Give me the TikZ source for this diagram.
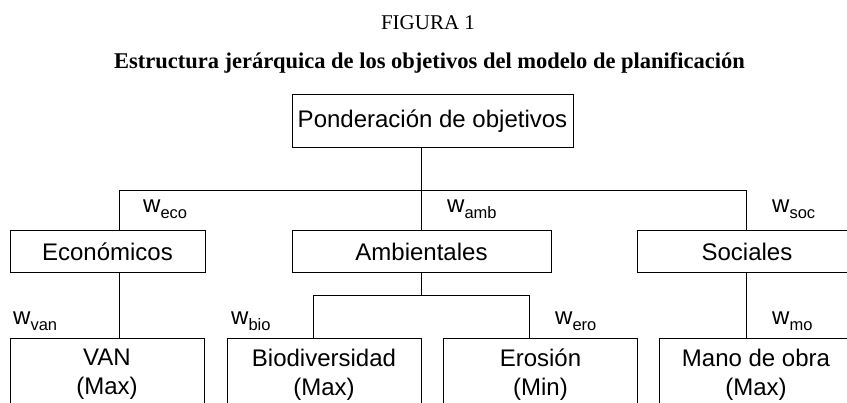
\documentclass[tikz,border=0pt]{standalone}
\usepackage{fontspec}
\setmainfont{Liberation Sans}
\newfontfamily\timesf{Liberation Serif}
\usetikzlibrary{positioning}

\newcommand{\wsub}[1]{w\raisebox{-6pt}{\fontsize{16.5}{16.5}\selectfont #1}}

\begin{document}
\begin{tikzpicture}[x=1pt, y=-1pt,
    box/.style={draw, line width=1pt, inner sep=0pt, font=\fontsize{24}{29}\selectfont},
    midbox/.style={box, minimum height=42pt, text height=19pt, text depth=2pt},
    leafbox/.style={box, align=center, minimum width=194pt, minimum height=72pt},
    wlab/.style={anchor=base west, inner sep=0pt, font=\fontsize{24}{24}\selectfont},
    link/.style={line width=1pt}]
  \useasboundingbox (0,0) rectangle (847,403);
  \clip (0,0) rectangle (847,403);

  \node[anchor=base, font=\timesf\fontsize{21}{21}\selectfont] (fig) at (428,30) {FIGURA 1};
  \node[anchor=base, font=\timesf\bfseries\fontsize{22.5}{22.5}\selectfont] (tit) at (429.5,69)
    {Estructura jerárquica de los objetivos del modelo de planificación};

  \node[box, minimum width=281pt, minimum height=53pt, text height=18pt, text depth=5pt] (pond) at (432.5,121.5) {Ponderación de objetivos};

  \node[midbox, minimum width=195pt] (eco) at (107.5,252) {Económicos};
  \node[midbox, minimum width=259pt] (amb) at (421.5,252) {Ambientales};
  \node[midbox, minimum width=220pt] (soc) at (747,252) {Sociales};

  \node[leafbox] (van) at (107,374.4) {VAN\\(Max)};
  \node[leafbox] (bio) at (324,374.4) {Biodiversidad\\(Max)};
  \node[leafbox] (ero) at (540.5,374.4) {Erosión\\(Min)};
  \node[leafbox] (mano) at (756,374.4) {Mano de obra\\(Max)};

  \coordinate (jl) at (119,191);
  \coordinate (jr) at (746,191);
  \coordinate (jm) at (313,296);
  \coordinate (jn) at (529,296);

  \draw[link] (pond.south -| amb.north) -- (amb.north);
  \draw[link] (eco.north -| jl) -- (jl) -- (jr) -- (soc.north -| jr);
  \draw[link] (eco.south -| jl) -- (van.north -| jl);
  \draw[link] (amb.south) -- (amb.south |- jm);
  \draw[link] (bio.north -| jm) -- (jm) -- (jn) -- (ero.north -| jn);
  \draw[link] (soc.south -| jr) -- (mano.north -| jr);

  \node[wlab] (weco) at (143,213) {\wsub{eco}};
  \node[wlab] (wamb) at (447,213) {\wsub{amb}};
  \node[wlab] (wsoc) at (772,213) {\wsub{soc}};
  \node[wlab] (wvan) at (13,325) {\wsub{van}};
  \node[wlab] (wbio) at (231,325) {\wsub{bio}};
  \node[wlab] (wero) at (555,325) {\wsub{ero}};
  \node[wlab] (wmo) at (772,325) {\wsub{mo}};
\end{tikzpicture}
\end{document}
